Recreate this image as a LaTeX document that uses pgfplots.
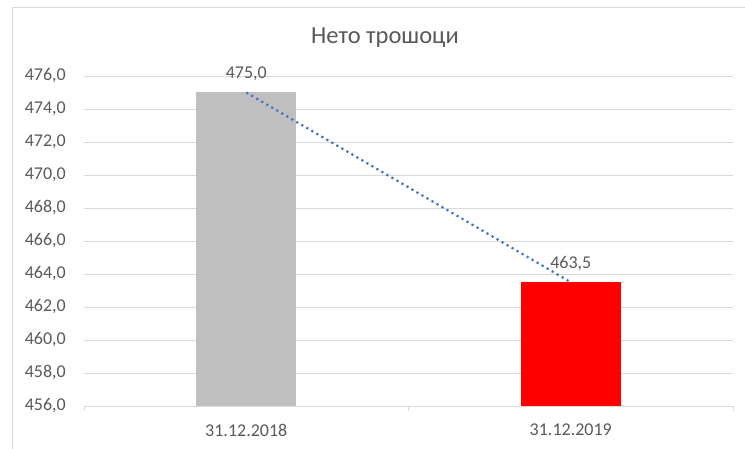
\documentclass[border=0pt]{standalone}
\usepackage{fontspec}
\setmainfont{Carlito}
\usepackage{pgfplots}
\pgfplotsset{compat=1.18}
\definecolor{txt}{HTML}{595959}
\definecolor{gridc}{HTML}{D9D9D9}
\definecolor{barg}{HTML}{BFBFBF}
\definecolor{trend}{HTML}{4472C4}
\begin{document}
\begin{tikzpicture}
\useasboundingbox (0,0) rectangle (745pt,449pt);
\draw[gridc, line width=0.8pt] (12pt,0) -- (12pt,442pt) -- (745pt,442pt);
\node[txt, font=\fontsize{24.5}{28}\selectfont, anchor=center] at (385pt,411pt) {Нето трошоци};
\begin{axis}[
  at={(84pt,43pt)}, anchor=south west,
  scale only axis, width=649pt, height=330pt,
  xmin=-0.5, xmax=1.5, ymin=456, ymax=476,
  ytick={456,458,...,476},
  xtick={0,1}, xticklabels={31.12.2018,31.12.2019},
  major tick length=0pt,
  extra x ticks={-0.5,0.5,1.5}, extra x tick labels={},
  extra x tick style={major tick length=5pt, tick align=outside, xmajorgrids=false, ymajorgrids=false},
  tick style={draw=gridc, line width=0.8pt},
  axis x line*=bottom,
  x axis line style={draw=gridc, line width=0.8pt},
  y axis line style={draw=none},
  xmajorgrids=false, ymajorgrids=true, grid style={draw=gridc, line width=0.8pt},
  tick pos=lower,
  /pgf/number format/.cd, fixed, fixed zerofill, precision=1, use comma, assume math mode=true,
  /pgfplots/.cd,
  yticklabel style={txt, font=\fontsize{18}{20}\selectfont, anchor=east, inner sep=0pt, xshift=-18pt},
  xticklabel style={txt, font=\fontsize{18}{20}\selectfont, anchor=north, inner sep=0pt, yshift=-18pt},
  nodes near coords,
  nodes near coords style={txt, font=\fontsize{18}{20}\selectfont, anchor=center, inner sep=0pt, text depth=0pt, yshift=20pt},
]
\addplot[ybar, bar width=100pt, bar shift=0pt, fill=barg, draw=none] coordinates {(0,475)};
\addplot[ybar, bar width=100pt, bar shift=0pt, fill=red, draw=none] coordinates {(1,463.5)};
\addplot[trend, line width=2.2pt, dash pattern=on 2.2pt off 3.6pt, no marks, sharp plot, nodes near coords={}] coordinates {(0,475) (1,463.5)};
\end{axis}
\end{tikzpicture}
\end{document}
